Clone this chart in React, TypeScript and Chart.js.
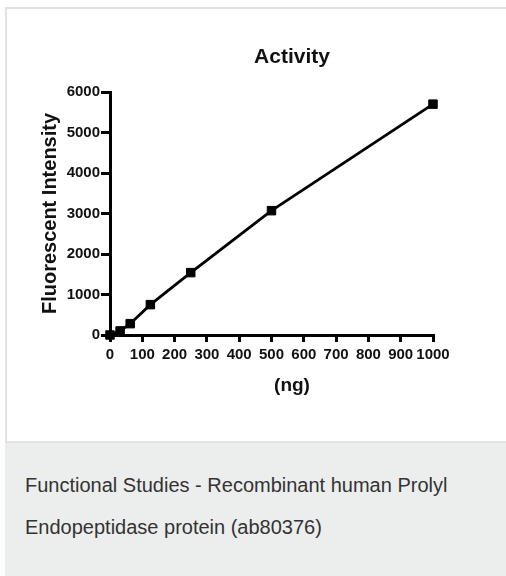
import React, { useEffect, useRef } from "react";
import { Chart, registerables } from "chart.js";

Chart.register(...registerables);

const amountsNg = [0, 31.25, 62.5, 125, 250, 500, 1000];
const intensity = [0, 100, 280, 750, 1540, 3070, 5700];
const chartTitle = "Activity";
const xTitle = "(ng)";
const yTitle = "Fluorescent Intensity";
const captionLines = [
  "Functional Studies - Recombinant human Prolyl",
  "Endopeptidase protein (ab80376)",
];

const FONT = "'Liberation Sans', Arial, Helvetica, sans-serif";

const textPlugin = {
  id: "extraTexts",
  afterDraw(chart: any) {
    const ctx = chart.ctx;
    ctx.save();
    ctx.fillStyle = "#111";
    ctx.textAlign = "center";
    ctx.textBaseline = "alphabetic";
    ctx.font = `bold 21px ${FONT}`;
    ctx.fillText(chartTitle, 285, 54);
    ctx.font = `bold 19px ${FONT}`;
    ctx.fillText(xTitle, 285, 382);
    ctx.restore();
  },
};

function ActivityChart() {
  const ref = useRef<HTMLCanvasElement | null>(null);
  useEffect(() => {
    if (!ref.current) return;
    const chart = new Chart(ref.current, {
      type: "line",
      data: {
        datasets: [
          {
            data: amountsNg.map((x, i) => ({ x, y: intensity[i] })),
            borderColor: "#000",
            backgroundColor: "#000",
            borderWidth: 2.8,
            pointStyle: "rect",
            pointRadius: 6,
            pointBorderWidth: 1,
            pointBackgroundColor: "#000",
            pointBorderColor: "#000",
            tension: 0,
            clip: false as any,
          },
        ],
      },
      options: {
        animation: false,
        responsive: false,
        maintainAspectRatio: false,
        layout: { padding: { left: 0, right: 73, top: 83, bottom: 46 } },
        plugins: {
          legend: { display: false },
          tooltip: { enabled: false },
          title: { display: false },
        },
        scales: {
          x: {
            type: "linear",
            min: 0,
            max: 1000,
            ticks: {
              stepSize: 100,
              color: "#111",
              padding: 4,
              maxRotation: 0,
              autoSkip: false,
              font: { family: FONT, size: 15, weight: "bold" },
              callback: (v: any) => String(v),
            },
            grid: {
              drawOnChartArea: false,
              drawTicks: true,
              tickLength: 7,
              lineWidth: 3,
              color: "#000",
            },
            border: { display: true, width: 3, color: "#000" },
            afterFit(scale: any) {
              scale.height = 60;
            },
          },
          y: {
            type: "linear",
            min: 0,
            max: 6000,
            ticks: {
              stepSize: 1000,
              color: "#111",
              padding: 1,
              font: { family: FONT, size: 15, weight: "bold" },
              callback: (v: any) => String(v),
            },
            grid: {
              drawOnChartArea: false,
              drawTicks: true,
              tickLength: 9,
              lineWidth: 3,
              color: "#000",
            },
            border: { display: true, width: 3, color: "#000" },
            title: {
              display: true,
              text: yTitle,
              color: "#111",
              padding: { top: 31, bottom: 0 },
              font: { family: FONT, size: 20, weight: "bold" },
            },
            afterFit(scale: any) {
              scale.width = 103;
            },
          },
        },
      },
      plugins: [textPlugin],
    });
    return () => chart.destroy();
  }, []);
  return (
    <canvas
      ref={ref}
      width={499}
      height={432}
      style={{ display: "block", width: 499, height: 432 }}
    />
  );
}

export default function App() {
  return (
    <div
      style={{
        position: "fixed",
        left: 0,
        top: 0,
        width: 506,
        height: 576,
        overflow: "hidden",
        background: "#fff",
      }}
    >
      <div
        style={{
          position: "absolute",
          left: 5,
          top: 7,
          width: 540,
          height: 432,
          border: "2px solid #e2e2e2",
          background: "#fff",
        }}
      >
        <ActivityChart />
      </div>
      <div
        style={{
          position: "absolute",
          left: 5,
          top: 443,
          width: 540,
          height: 133,
          background: "#eceeed",
          boxSizing: "border-box",
          paddingTop: 21,
          paddingLeft: 20,
          fontFamily: FONT,
          fontSize: 20,
          lineHeight: "42px",
          color: "#333",
        }}
      >
        {captionLines.map((l) => (
          <div key={l}>{l}</div>
        ))}
      </div>
    </div>
  );
}
